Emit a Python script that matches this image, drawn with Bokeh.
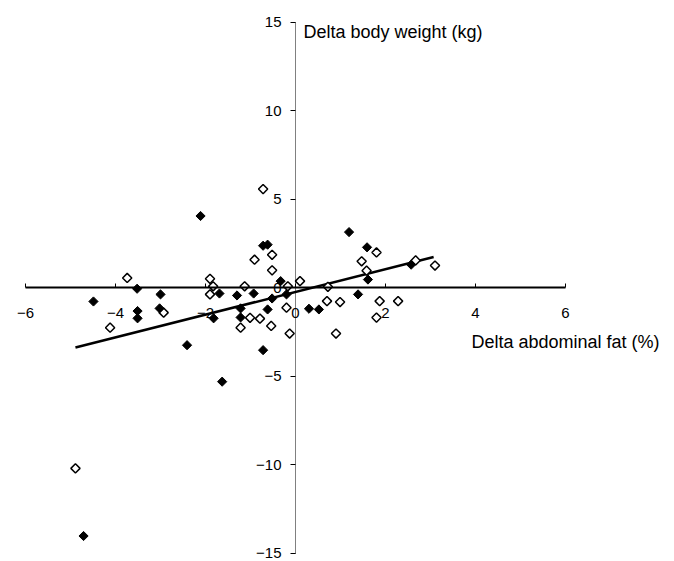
from bokeh.plotting import figure
from bokeh.models import Range1d, LinearAxis, FixedTicker, Label, AllLabels
from bokeh.embed import file_html
from bokeh.resources import INLINE
import math

# Filled diamonds
filled_x = [-4.49, -3.52, -3.00, -3.51, -3.51, -3.02, -2.41, -2.11, -0.72, -0.62,
            -1.69, -1.30, -0.93, -0.33, -0.52, -0.20, -1.22, -1.22, -1.82, -0.62,
            -0.72, -1.63, 1.19, 1.59, 1.61, 1.39, 0.30, 0.52, 2.57, -4.71]
filled_y = [-0.79, -0.07, -0.39, -1.33, -1.74, -1.18, -3.26, 4.04, 2.36, 2.42,
            -0.34, -0.45, -0.34, 0.36, -0.62, -0.39, -1.18, -1.69, -1.74, -1.24,
            -3.54, -5.32, 3.13, 2.27, 0.45, -0.39, -1.20, -1.24, 1.29, -14.04]

# Open diamonds
open_x = [-4.89, -3.74, -4.12, -2.93, -0.72, -0.52, -0.91, -0.52, -1.90, -1.83,
          -1.90, -1.13, -1.01, -0.79, -1.22, -0.54, -0.20, -0.13, -0.17, 0.10,
          0.72, 0.70, 0.99, 0.90, 1.47, 1.80, 1.58, 1.87, 2.28, 1.80, 3.10, 2.67]
open_y = [-10.22, 0.54, -2.27, -1.42, 5.56, 1.85, 1.57, 0.97, 0.49, 0.07,
          -0.39, 0.07, -1.71, -1.76, -2.27, -2.17, -1.14, -2.60, 0.07, 0.36,
          0.04, -0.77, -0.82, -2.60, 1.48, 1.98, 0.95, -0.77, -0.77, -1.70, 1.24, 1.53]

# Regression line endpoints
line_x = [-4.89, 3.07]
line_y = [-3.39, 1.72]

x_ticks = [-6, -4, -2, 0, 2, 4, 6]
y_ticks = [-15, -10, -5, 0, 5, 10, 15]

x_title = "Delta abdominal fat (%)"
y_title = "Delta body weight (kg)"

X0, XS = 295, 45.0
Y0, YS = 287, 17.7

p = figure(width=674, height=561, output_backend="svg", toolbar_location=None,
           x_range=Range1d(-X0 / XS, (674 - X0) / XS),
           y_range=Range1d(-(561 - Y0) / YS, Y0 / YS),
           x_axis_type=None, y_axis_type=None, min_border=0)
p.grid.visible = False
p.outline_line_color = None
p.background_fill_color = "white"

FONT = "Liberation Sans"

xaxis = LinearAxis(fixed_location=0, ticker=FixedTicker(ticks=x_ticks),
                   bounds=(-6, 6), major_label_policy=AllLabels())
xaxis.axis_line_width = 2
xaxis.axis_line_color = "black"
xaxis.major_tick_in = 4
xaxis.major_tick_out = 0
xaxis.major_tick_line_width = 1
xaxis.minor_tick_line_color = None
xaxis.major_label_text_font = FONT
xaxis.major_label_text_font_size = "15px"
xaxis.major_label_text_color = "black"
xaxis.major_label_standoff = 20
p.add_layout(xaxis, "below")

yaxis = LinearAxis(fixed_location=0, ticker=FixedTicker(ticks=y_ticks),
                   bounds=(-15, 15), major_label_policy=AllLabels())
yaxis.axis_line_width = 1
yaxis.axis_line_dash = "1 1"
yaxis.axis_line_color = "black"
yaxis.major_tick_in = 0
yaxis.major_tick_out = 5
yaxis.minor_tick_line_color = None
yaxis.major_label_text_font = FONT
yaxis.major_label_text_font_size = "15px"
yaxis.major_label_text_color = "black"
yaxis.major_label_standoff = 9
p.add_layout(yaxis, "left")

p.line(line_x, line_y, line_color="black", line_width=2.5)

p.scatter(open_x, open_y, marker="square", angle=math.pi / 4, size=6.5,
          fill_color="white", line_color="black", line_width=1.5)
p.scatter(filled_x, filled_y, marker="square", angle=math.pi / 4, size=6.5,
          fill_color="black", line_color="black", line_width=1)

p.add_layout(Label(x=303, y=561 - 31, x_units="screen", y_units="screen",
                   text=y_title, text_font=FONT, text_font_size="18px",
                   text_baseline="alphabetic", text_color="black"))
p.add_layout(Label(x=471, y=561 - 341, x_units="screen", y_units="screen",
                   text=x_title, text_font=FONT, text_font_size="18px",
                   text_baseline="alphabetic", text_color="black"))

open("out.html", "w").write(file_html(p, INLINE))
